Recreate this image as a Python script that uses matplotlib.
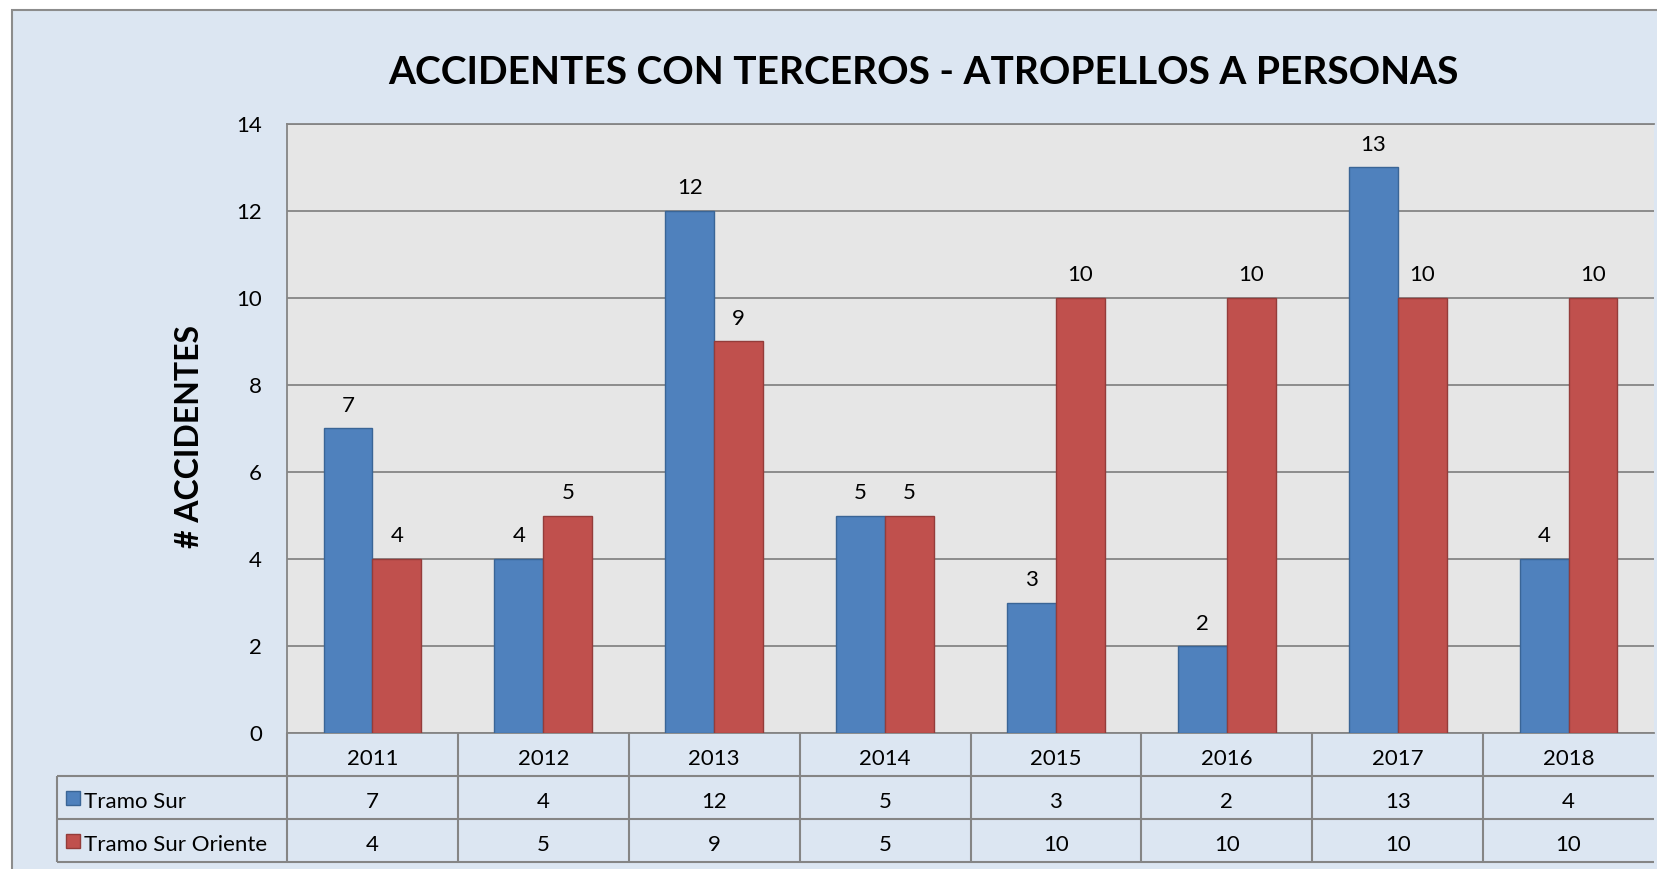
import matplotlib.pyplot as plt
import numpy as np
from matplotlib.patches import Rectangle

# datos
years = ['2011', '2012', '2013', '2014', '2015', '2016', '2017', '2018']
tramo_sur = [7, 4, 12, 5, 3, 2, 13, 4]
tramo_sur_oriente = [4, 5, 9, 5, 10, 10, 10, 10]
series_names = ['Tramo Sur', 'Tramo Sur Oriente']

colors = ['#4F81BD', '#C0504D']
edges = ['#3A6596', '#943C3A']
grid_c = '#858585'
fs = 16

plt.rcParams['font.family'] = ['Lato', 'DejaVu Sans']

W, H = 1658, 869
fig = plt.figure(figsize=(W / 100, H / 100), dpi=100)
fig.patch.set_facecolor('white')
# marco exterior
fig.patches.append(Rectangle((12 / W, -0.02), 1.0, 1 - 10 / H + 0.02, transform=fig.transFigure,
                             facecolor='#DCE6F2', edgecolor='#8C8C8C', lw=1.5, zorder=-5))

x0, x1 = 287, 1654
ax = fig.add_axes([x0 / W, 1 - 733 / H, (x1 - x0) / W, (733 - 124) / H])
ax.set_facecolor('#E6E6E6')

x = np.arange(len(years))
bw = 0.286
data = [tramo_sur, tramo_sur_oriente]
for k, vals in enumerate(data):
    pos = x + (k - 0.5) * bw
    bars = ax.bar(pos, vals, bw, color=colors[k], edgecolor=edges[k], lw=1, zorder=3)
    for xi, v in zip(pos, vals):
        ax.annotate(str(v), (xi, v), xytext=(0, 9), textcoords='offset points',
                    ha='center', va='bottom', fontsize=fs)

ax.set_xlim(-0.5, len(years) - 0.5)
ax.set_ylim(0, 14)
ax.set_yticks(range(0, 15, 2))
ax.set_xticks([])
ax.tick_params(axis='y', length=0, pad=18, labelsize=fs)
ax.yaxis.grid(True, color=grid_c, lw=1.3, zorder=1)
ax.set_axisbelow(True)
for s in ['right']:
    ax.spines[s].set_visible(False)
for s in ['left', 'bottom', 'top']:
    ax.spines[s].set_color(grid_c)
    ax.spines[s].set_linewidth(1.3)

fig.text(190 / W, 1 - 437 / H, '# ACCIDENTES', rotation=90, ha='center', va='center',
         fontsize=23, fontweight='bold')
fig.text(923 / W, 1 - 73 / H, 'ACCIDENTES CON TERCEROS - ATROPELLOS A PERSONAS',
         ha='center', va='center', fontsize=28, fontweight='bold')

# tabla de datos
lab_w = 230 / ((x1 - x0) / len(years))
left = -0.5 - lab_w
tax = fig.add_axes([57 / W, 1 - 862 / H, (x1 - 57) / W, 129 / H])
tax.set_xlim(left, len(years) - 0.5)
tax.set_ylim(3, 0)
tax.axis('off')

for yy in [1, 2, 3]:
    tax.hlines(yy, left, len(years) - 0.5, color=grid_c, lw=1.5, clip_on=False)
tax.vlines(left, 1, 3, color=grid_c, lw=1.5, clip_on=False)
for xv in np.arange(-0.5, len(years) - 0.5, 1.0):
    tax.vlines(xv, 0, 3, color=grid_c, lw=1.5, clip_on=False)

dy = 0.1  # texto un poco mas abajo en cada fila
for i, yr in enumerate(years):
    tax.text(i, 0.5 + dy, yr, ha='center', va='center', fontsize=fs)
for k, vals in enumerate(data):
    for i, v in enumerate(vals):
        tax.text(i, 1.5 + k + dy, str(v), ha='center', va='center', fontsize=fs)
    tax.plot(left + 0.095, 1.5 + k, marker='s', ms=10, color=colors[k],
             markeredgecolor=edges[k], clip_on=False)
    tax.text(left + 0.16, 1.5 + k + dy, series_names[k], ha='left', va='center', fontsize=fs)

fig.savefig('out.png', dpi=100, facecolor=fig.get_facecolor())
